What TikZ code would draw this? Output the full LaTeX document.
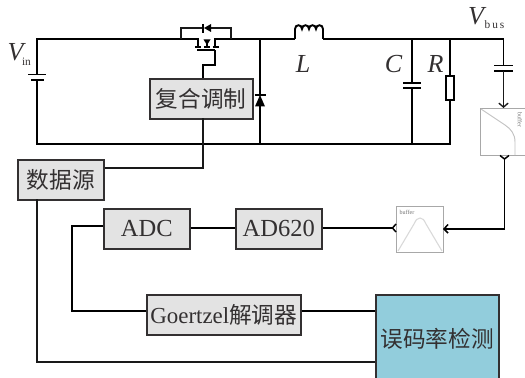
\documentclass[tikz,border=0pt]{standalone}
\usepackage{fontspec}
\setmainfont{Liberation Serif}
\newfontfamily\cjk{Noto Sans CJK SC}
\usetikzlibrary{arrows.meta}
\definecolor{ink}{HTML}{333031}
\definecolor{boxfill}{HTML}{E3E3E3}
\definecolor{errfill}{HTML}{92CDDC}
\definecolor{frame}{HTML}{A8A8A8}
\tikzset{
  wire/.style={line width=1.45pt,black},
  plate/.style={line width=1.45pt,black},
  thinwire/.style={line width=1.2pt,black!90},
  blockbox/.style={draw=ink,line width=1.2pt,fill=boxfill,inner sep=0pt,text=ink,anchor=north west,align=center},
  cn/.style={font=\cjk\fontsize{17}{17}\selectfont},
  ln/.style={font=\fontsize{18.4}{18.4}\selectfont},
  sym/.style={text=ink,font=\itshape\fontsize{19.5}{19.5}\selectfont,inner sep=0pt},
  subs/.style={text=ink,font=\fontsize{8.5}{8.5}\selectfont,inner sep=0pt},
  filterbox/.style={draw=frame,line width=1pt,fill=white,inner sep=0pt,anchor=north west},
  filtertext/.style={text=black!55,font=\fontsize{4.5}{4.5}\selectfont,inner sep=0pt},
  tipv/.style={line width=1.1pt,black},
  bar/.style={-{Straight Barb[length=3pt,width=7pt,line width=1pt]}}
}
\begin{document}
\begin{tikzpicture}[x=0.75pt,y=-0.75pt]
\useasboundingbox (0,0) rectangle (525,378);
% blocks
\node[blockbox,cn,minimum width=77.25pt,minimum height=30pt] (mod) at (149,78) {复合调制};
\node[blockbox,cn,minimum width=64.5pt,minimum height=30pt] (src) at (17,159) {数据源};
\node[blockbox,ln,minimum width=64.5pt,minimum height=30pt] (adc) at (103,208) {ADC};
\node[blockbox,ln,minimum width=64.5pt,minimum height=30pt] (ina) at (235,208) {AD620};
\node[blockbox,minimum width=115.5pt,minimum height=30pt] (gtz) at (146,294) {{\fontsize{17.2}{17.2}\selectfont Goertzel}{\cjk\fontsize{17}{17}\selectfont 解调器}};
\node[blockbox,cn,fill=errfill,minimum width=92.25pt,minimum height=66pt] (err) at (375,294) {误码率检测};
\node[filterbox,minimum width=33.75pt,minimum height=35.25pt] (lpf) at (480,108) {};
\node[filterbox,minimum width=35.25pt,minimum height=34.5pt] (bpf) at (396,206) {};
% filter graphics
\draw[frame!70,line width=0.7pt] (481,109) -- (505,125) .. controls (511,129) and (515,134) .. (515,142) -- (515,155);
\draw[black!15,line width=0.8pt] (398,251) -- (414,224) .. controls (416,220) and (417,218) .. (420,218) .. controls (423,218) and (424,220) .. (426,224) -- (442,251);
\node[filtertext,rotate=-90] (lpft) at (520,120) {buffer};
\node[filtertext] (bpft) at (407,212) {buffer};
% labels
\node[sym] (vin) at (15.5,52) {V};
\node[subs] (vins) at (26.5,61.5) {in};
\node[sym] (vbus) at (476,16) {V};
\node[subs] (vbuss) at (494.5,24.5) {b\,u\,s};
\node[sym] (lL) at (303,64) {L};
\node[sym] (lC) at (393.5,64) {C};
\node[sym] (lR) at (435.5,64) {R};
% coordinates
\coordinate (tl) at (37,39);
\coordinate (bl) at (37,144);
\coordinate (batA) at (37,74.5);
\coordinate (batB) at (37,80);
\coordinate (ms) at (198,39);
\coordinate (md) at (215,39);
\coordinate (bpa) at (181,39);
\coordinate (bpb) at (231,39);
\coordinate (dtop) at (260,39);
\coordinate (dbot) at (260,144);
\coordinate (lin) at (295,39);
\coordinate (lout) at (323,39);
\coordinate (ctop) at (412,39);
\coordinate (cbot) at (412,144);
\coordinate (rtop) at (450,39);
\coordinate (rbot) at (450,144);
\coordinate (ktop) at (503.5,39);
% power rails
\draw[wire] (batA) -- (tl) -- (ms) -- (198,47);
\draw[wire] (batB) -- (bl) -- (rbot) -- (rtop);
\draw[wire] (215,47) -- (md) -- (lin);
\draw[wire] (lout) -- (ktop);
% inductor
\draw[wire] (lin) -- (295,29) .. controls (295,24) and (302,24) .. (302,29) .. controls (302,24) and (309,24) .. (309,29) .. controls (309,24) and (316,24) .. (316,29) .. controls (316,24) and (323,24) .. (323,29) -- (lout);
% mosfet
\draw[line width=1.5pt,black] (195,47.5) -- (201,47.5) (204,47.5) -- (210,47.5) (212.5,47.5) -- (218.5,47.5);
\draw[line width=1.5pt,black] (197,50.5) -- (215,50.5);
\draw[wire] (207,47) -- (207,40);
\fill[black] (207,45) -- (203.5,39.5) -- (210.5,39.5) -- cycle;
% body diode
\draw[thinwire] (bpa) -- (181,28) -- (203,28);
\draw[thinwire] (209,28) -- (231,28) -- (bpb);
\draw[line width=1pt,black] (203,24) -- (203,33);
\fill[black] (204,28) -- (211,24) -- (211,32) -- cycle;
% gate
\draw[wire] (203,78) -- (203,65) -- (215,65) -- (215,50.5);
% freewheel diode
\draw[wire] (dtop) -- (260,95);
\draw[wire] (260,105) -- (dbot);
\draw[line width=1.5pt,black] (254.5,95) -- (265.5,95);
\fill[black] (260,95) -- (255,106.5) -- (265,106.5) -- cycle;
% battery
\draw[plate] (28,74.5) -- (46,74.5);
\draw[plate] (31,80) -- (44,80);
% C
\draw[wire] (ctop) -- (412,83);
\draw[wire] (412,88) -- (cbot);
\draw[plate] (403,83) -- (421,83);
\draw[plate] (403,88) -- (421,88);
% R
\draw[line width=1.1pt,black,fill=white] (446,76) rectangle (454,100);
% coupling cap and arrow into filter
\draw[wire] (ktop) -- (503.5,65);
\draw[plate] (494,65.5) -- (513,65.5);
\draw[plate] (494,71) -- (513,71);
\draw[thinwire,bar] (503.5,71) -- (503.5,108);
% filter output
\draw[wire] (504.5,159) -- (504.5,229) -- (444,229);
\draw[tipv] (500,155.5) -- (504.5,159) -- (509,155.5);
\draw[tipv] (448,224.5) -- (444,229) -- (448,233);
% filter to AD620
\draw[wire] (ina.east |- 0,228) -- (392,228);
\draw[tipv] (396,224) -- (392.5,228) -- (396,232);
% chain
\draw[wire] (adc.east |- 0,228) -- (ina.west |- 0,228);
\draw[wire] (adc.west |- 0,226) -- (72,226) -- (72,311) -- (gtz.west |- 0,311);
\draw[wire] (gtz.east |- 0,311) -- (err.west |- 0,311);
% data source
\draw[thinwire] (src.east |- 0,168) -- (203,168) -- (203,118);
\draw[thinwire] (37,199) -- (37,362) -- (err.west |- 0,362);
\end{tikzpicture}
\end{document}
